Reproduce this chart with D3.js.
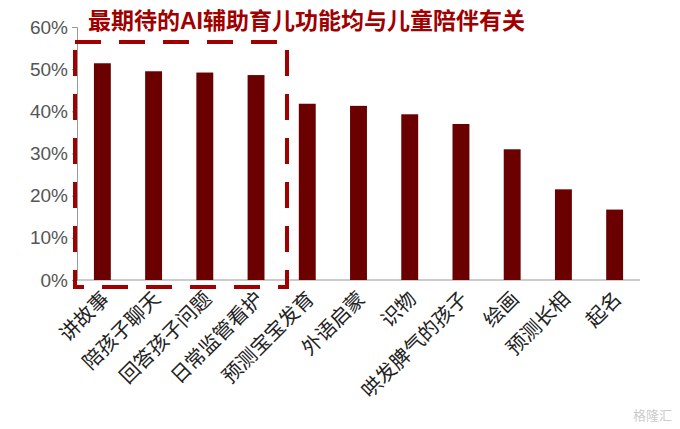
<!DOCTYPE html>
<html><head><meta charset="utf-8">
<script src="https://cdn.jsdelivr.net/npm/d3@7"></script>
<style>body{margin:0;background:#fff}</style></head>
<body><svg width="680" height="429"></svg>
<script>
const categories = ['讲故事','陪孩子聊天','回答孩子问题','日常监管看护','预测宝宝发育','外语启蒙','识物','哄发脾气的孩子','绘画','预测长相','起名'];
const values = [51.4, 49.5, 49.2, 48.6, 41.8, 41.3, 39.3, 37.0, 31.0, 21.5, 16.7];
const yTicks = [0, 10, 20, 30, 40, 50, 60];

const svg = d3.select('svg');
const font = 'Arial, "Liberation Sans", "Noto Sans CJK SC", sans-serif';
const dark = '#6b0000';

const x = d3.scaleBand().domain(categories).range([77, 640]).paddingInner(0.67).paddingOuter(0.33);
const y = d3.scaleLinear().domain([0, 60]).range([280, 27]);

const yAxis = svg.append('g').attr('transform', 'translate(77,0)')
    .call(d3.axisLeft(y).tickValues(yTicks).tickFormat(d => d + '%').tickSize(5).tickPadding(4));
yAxis.selectAll('text').attr('font-family', font).attr('font-size', 19).attr('fill', '#555');
yAxis.selectAll('line,path').attr('stroke', '#999');

svg.append('line').attr('x1', 77).attr('x2', 640).attr('y1', y(0)).attr('y2', y(0)).attr('stroke', '#999');

svg.selectAll('rect.bar').data(values).join('rect').attr('class', 'bar')
    .attr('x', (d, i) => x(categories[i]))
    .attr('width', x.bandwidth())
    .attr('y', d => y(d))
    .attr('height', d => y(0) - y(d))
    .attr('fill', dark);

svg.selectAll('text.cat').data(categories).join('text').attr('class', 'cat')
    .attr('transform', d => `translate(${x(d) + x.bandwidth() / 2 + 8},${y(0) + 20}) rotate(-45)`)
    .attr('text-anchor', 'end')
    .attr('font-family', font).attr('font-size', 20).attr('fill', '#222')
    .text(d => d);

svg.append('rect').attr('x', 75).attr('y', 42).attr('width', 212).attr('height', 245)
    .attr('fill', 'none').attr('stroke', '#a00000').attr('stroke-width', 4).attr('stroke-dasharray', '26,18');

svg.append('text').attr('x', 88).attr('y', 29)
    .attr('font-family', font).attr('font-size', 23).attr('font-weight', 'bold').attr('fill', '#a00000')
    .text('最期待的AI辅助育儿功能均与儿童陪伴有关');

svg.append('text').attr('x', 672).attr('y', 420).attr('text-anchor', 'end')
    .attr('font-family', font).attr('font-size', 13).attr('fill', '#ccc').text('格隆汇');
</script></body></html>
